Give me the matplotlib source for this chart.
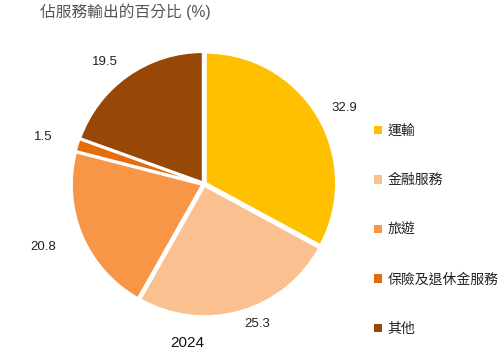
import matplotlib
matplotlib.use("Agg")
import matplotlib.pyplot as plt
from matplotlib.patches import Patch

plt.rcParams['font.family'] = ['Liberation Sans', 'Noto Sans CJK TC']

## DATA
categories = ['運輸', '金融服務', '旅遊', '保險及退休金服務', '其他']
shares = [32.9, 25.3, 20.8, 1.5, 19.5]
colors = ['#FFC000', '#FAC090', '#F79646', '#E46C0A', '#974806']
title = '佔服務輸出的百分比 (%)'
year = '2024'

fig = plt.figure(figsize=(5.04, 3.6), dpi=100)

# pie centred at about (204, 184) px, radius ~133 px
cx, cy, r = 204, 184, 133
ax = fig.add_axes([(cx - r) / 504, (360 - cy - r) / 360, 2 * r / 504, 2 * r / 360])

wedges, texts = ax.pie(
    shares,
    colors=colors,
    labels=[f'{v:.1f}' for v in shares],
    startangle=90,
    counterclock=False,
    explode=[0.015] * len(shares),
    radius=0.98,
    labeldistance=1.13,
    wedgeprops=dict(edgecolor='white', linewidth=1.5),
    textprops=dict(fontsize=9.5, color='#222222'),
)
# Excel puts some labels a bit further out
label_dist = [1.12, 1.1, 1.22, 1.2, 1.13]
for t, w, d in zip(texts, wedges, label_dist):
    x, y = t.get_position()
    k = d / 1.13
    t.set_position((x * k, y * k))

ax.set_xlim(-1, 1)
ax.set_ylim(-1, 1)

fig.text(40 / 504, 1 - 12 / 360, title, fontsize=11.3, color='#555555', va='center', ha='left')
fig.text(187 / 504, 1 - 343 / 360, year, fontsize=11, color='#111111', va='center', ha='center')

handles = [Patch(facecolor=c, edgecolor='none') for c in colors]
fig.legend(
    handles, categories,
    loc='upper left',
    bbox_to_anchor=(374 / 504, 1 - 124 / 360),
    frameon=False,
    fontsize=10,
    handlelength=0.55, handleheight=0.55, handletextpad=0.4,
    labelspacing=2.55,
    labelcolor='#222222',
    borderaxespad=0, borderpad=0,
)

fig.savefig('out.png', dpi=100)
